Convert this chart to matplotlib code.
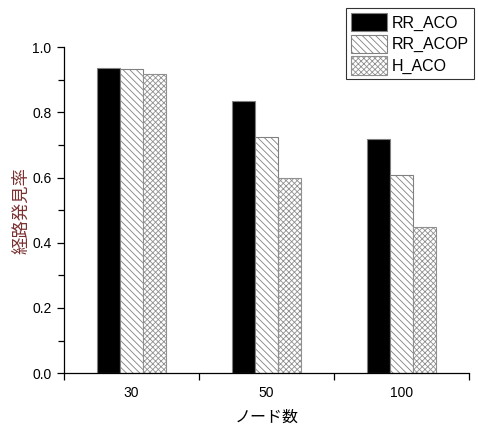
import matplotlib
matplotlib.use("Agg")
import matplotlib.pyplot as plt
import numpy as np

plt.rcParams['hatch.linewidth'] = 0.6
plt.rcParams['font.family'] = ['Liberation Sans', 'Noto Sans CJK JP', 'DejaVu Sans']

# data
nodes = ["30", "50", "100"]
rr_aco = [0.936, 0.834, 0.718]
rr_acop = [0.932, 0.724, 0.608]
h_aco = [0.919, 0.598, 0.449]
series_names = ["RR_ACO", "RR_ACOP", "H_ACO"]

fig = plt.figure(figsize=(4.78, 4.25), dpi=100)
ax = fig.add_axes([0.134, 0.122, 0.847, 0.767])

x = np.arange(1, len(nodes) + 1)
w = 0.17
b1 = ax.bar(x - w, rr_aco, w, color="black", edgecolor="#808080", linewidth=0.8, label=series_names[0])
b2 = ax.bar(x, rr_acop, w, color="white", edgecolor="#808080", hatch="\\\\\\\\\\", linewidth=0.8, label=series_names[1])
b3 = ax.bar(x + w, h_aco, w, color="white", edgecolor="#909090", hatch="xxxxxx", linewidth=0.8, label=series_names[2])

ax.set_xlim(0.5, 3.5)
ax.set_ylim(0, 1.0)
ax.set_xticks(x)
ax.set_xticklabels(nodes)
ax.set_xticks([0.5, 1.5, 2.5, 3.5], minor=True)
ax.tick_params(axis="x", which="major", length=0, pad=9, labelsize=10)
ax.tick_params(axis="x", which="minor", length=5, direction="out", width=0.9)
ax.set_yticks(np.arange(0, 1.01, 0.2))
ax.set_yticklabels(["%.1f" % v for v in np.arange(0, 1.01, 0.2)])
ax.set_yticks(np.arange(0.1, 1.0, 0.2), minor=True)
ax.tick_params(axis="y", which="major", length=5, direction="out", width=0.9, labelsize=10, pad=4)
ax.tick_params(axis="y", which="minor", length=4, direction="out", width=0.9)

ax.spines["top"].set_visible(False)
ax.spines["right"].set_visible(False)
ax.spines["left"].set_linewidth(0.9)
ax.spines["bottom"].set_linewidth(0.9)

ax.set_xlabel("ノード数", family=["Noto Sans CJK JP"], fontsize=11.5, labelpad=6.5)
ax.set_ylabel("経路発見率", family=["Noto Sans CJK JP"], fontsize=12.5, color="#7a3030", labelpad=1)

leg = fig.legend(handles=[b1, b2, b3], loc="upper left", bbox_to_anchor=(0.724, 0.981),
                 fontsize=11.5, frameon=True, fancybox=False, edgecolor="black",
                 handlelength=2.25, handleheight=1.4, handletextpad=0.3,
                 borderpad=0.3, labelspacing=0.2, borderaxespad=0)
leg.get_frame().set_linewidth(0.8)

fig.savefig("out.png", dpi=100)
